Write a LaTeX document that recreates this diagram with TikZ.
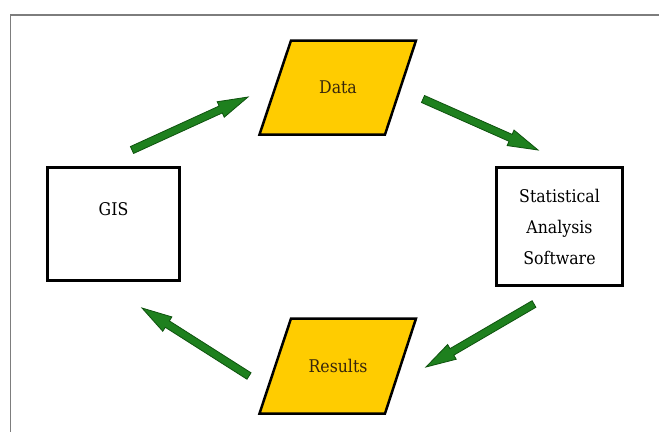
\documentclass[tikz,border=0pt]{standalone}
\usepackage{fontspec}
\setmainfont{DejaVu Serif}[FakeStretch=0.9]
\usetikzlibrary{calc}
\definecolor{boxyellow}{RGB}{255,204,0}
\definecolor{arrowgreen}{RGB}{30,128,30}
\definecolor{arrowedge}{RGB}{14,82,14}
\definecolor{labelbrown}{RGB}{55,38,12}
\definecolor{framegrey}{RGB}{125,125,125}

% thick green block arrow from #1 (tail) to #2 (tip)
\newcommand\greenarrow[2]{%
  \draw[fatarrow] let \p1=($(#2)-(#1)$), \n1={atan2(\y1,\x1)} in
    ($(#1)+(\n1+90:3.8pt)$)
    -- ($(#2)+(\n1+180:30pt)+(\n1+90:3.8pt)$)
    -- ($(#2)+(\n1+180:30pt)+(\n1+90:8.5pt)$)
    -- (#2)
    -- ($(#2)+(\n1+180:30pt)+(\n1-90:8.5pt)$)
    -- ($(#2)+(\n1+180:30pt)+(\n1-90:3.8pt)$)
    -- ($(#1)+(\n1-90:3.8pt)$) -- cycle;}

\begin{document}
\begin{tikzpicture}[x=1pt,y=-1pt,
  boxstyle/.style={draw=black, line width=2.5pt, fill=white, inner sep=0pt,
    align=center, font=\fontsize{17.5}{31}\selectfont},
  slantbox/.style={draw=black, line width=2.5pt, fill=boxyellow, line join=miter},
  slanttext/.style={text=labelbrown, font=\fontsize{17.5}{20}\selectfont},
  fatarrow/.style={fill=arrowgreen, draw=arrowedge, line width=0.8pt, line join=miter},
  framestyle/.style={draw=framegrey, line width=1.3pt}]

\useasboundingbox (0,0) rectangle (659,432);
\fill[white] (0,0) rectangle (659,432);

% outer frame (top and left edges)
\draw[framestyle] (659,15) -- (10.5,15) -- (10.5,432);

% input and output parallelograms
\draw[slantbox] (291,40.5) -- (416,40.5) -- (385,134.5) -- (259.5,134.5) -- cycle;
\node[slanttext] (data) at (338,87.5) {Data};
\draw[slantbox] (291,318.5) -- (416,318.5) -- (385,413.5) -- (259.5,413.5) -- cycle;
\node[slanttext] (results) at (338,366) {Results};

% process boxes
\node[boxstyle, minimum width=132pt, minimum height=113pt] (gis) at (113.5,224) {GIS\\ \mbox{}};
\node[boxstyle, minimum width=126pt, minimum height=118pt] (stats) at (559.5,226.5)
  {Statistical\\Analysis\\Software};

% arrow end points
\coordinate (a1s) at (132,150); \coordinate (a1e) at (248,97);
\coordinate (a2s) at (423,99);  \coordinate (a2e) at (538,150);
\coordinate (a3s) at (534,304); \coordinate (a3e) at (426,367);
\coordinate (a4s) at (249,376); \coordinate (a4e) at (142,308);

\greenarrow{a1s}{a1e}
\greenarrow{a2s}{a2e}
\greenarrow{a3s}{a3e}
\greenarrow{a4s}{a4e}
\end{tikzpicture}
\end{document}
